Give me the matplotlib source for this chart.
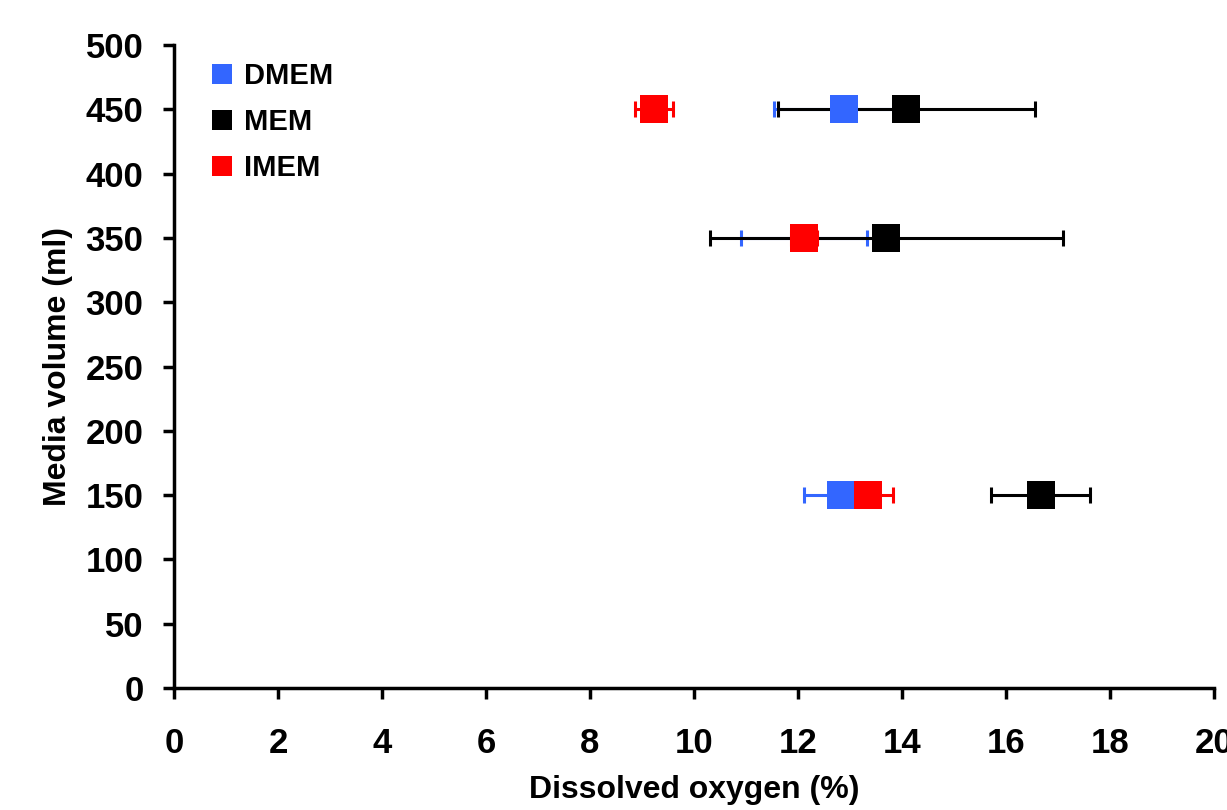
import matplotlib
matplotlib.use("Agg")
import matplotlib.pyplot as plt

volumes = [150, 350, 450]
series = ["DMEM", "MEM", "IMEM"]
colors = ["#3366FF", "#000000", "#FF0000"]
dmem_mean = [12.83, 12.12, 12.88]
dmem_err = [0.71, 1.21, 1.34]
mem_mean = [16.67, 13.70, 14.08]
mem_err = [0.95, 3.40, 2.47]
imem_mean = [13.35, 12.12, 9.23]
imem_err = [0.48, 0.25, 0.36]

x_ticks = list(range(0, 21, 2))
y_ticks = list(range(0, 501, 50))

plt.rcParams['font.family'] = ['Liberation Sans', 'DejaVu Sans']
fig = plt.figure(figsize=(12.27, 8.10), dpi=100)
ax = fig.add_axes([174/1227, 122/810, 1040/1227, 643/810])

means = [dmem_mean, mem_mean, imem_mean]
errs = [dmem_err, mem_err, imem_err]
for i, (c, m, e) in enumerate(zip(colors, means, errs)):
    ax.errorbar(m, volumes, xerr=e, fmt='none', ecolor=c, elinewidth=2.2,
                capsize=5.5, capthick=2.2, zorder=2 + i * 0.1)
for i, (name, c, m) in enumerate(zip(series, colors, means)):
    ax.plot(m, volumes, 's', color=c, markersize=20, markeredgewidth=0,
            label=name, zorder=3 + i * 0.1, linestyle='none')

ax.set_xlim(0, 20)
ax.set_ylim(0, 500)
ax.set_xticks(x_ticks)
ax.set_yticks(y_ticks)
for s in ['top', 'right']:
    ax.spines[s].set_visible(False)
for s in ['left', 'bottom']:
    ax.spines[s].set_linewidth(2.5)
ax.tick_params(axis='both', direction='out', length=8, width=2.5, labelsize=25)
ax.tick_params(axis='x', pad=20)
ax.tick_params(axis='y', pad=14)
for lab in ax.get_xticklabels() + ax.get_yticklabels():
    lab.set_fontweight('bold')
ax.set_xlabel("Dissolved oxygen (%)", fontsize=23, fontweight='bold')
ax.set_ylabel("Media volume (ml)", fontsize=23, fontweight='bold')
ax.xaxis.set_label_coords(0.5, -0.135)
ax.yaxis.set_label_coords(-0.097, 0.5)

handles = [plt.Line2D([], [], marker='s', linestyle='none', color=c, markersize=14.5,
                      markeredgewidth=0) for c in colors]
ax.legend(handles, series, loc='upper left', frameon=False,
          prop={'weight': 'bold', 'size': 21}, handletextpad=0.05, handlelength=1.4,
          labelspacing=0.62, borderaxespad=0.0, bbox_to_anchor=(0.015, 0.992))

fig.savefig("out.png", dpi=100)
